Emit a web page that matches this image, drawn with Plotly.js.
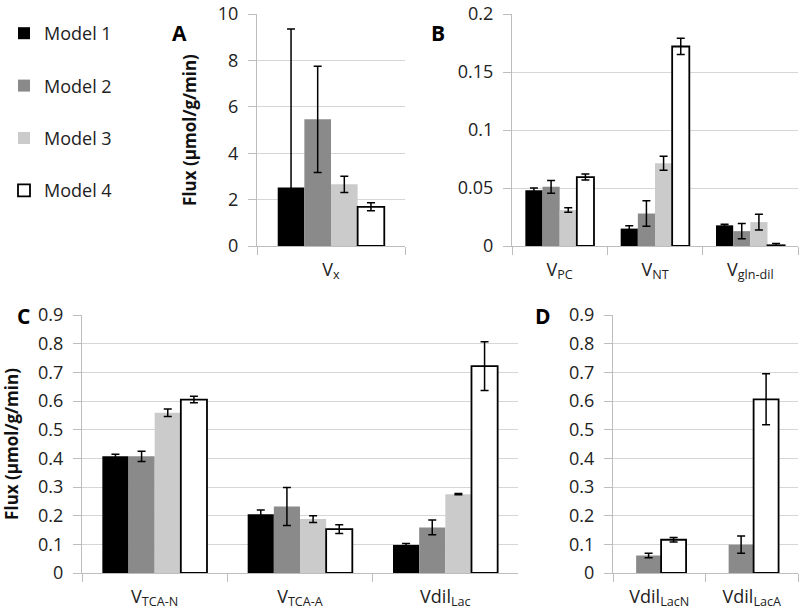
<!DOCTYPE html>
<html>
<head>
<meta charset="utf-8">
<script src="https://cdn.plot.ly/plotly-3.0.1.min.js"></script>
<style>
  html, body { margin: 0; padding: 0; background: #fff; }
  #chart { width: 800px; height: 614px; }
</style>
</head>
<body>
<div id="chart"></div>
<script>
const models = ['Model 1', 'Model 2', 'Model 3', 'Model 4'];

// panel A
const catsA = ['V<sub>x</sub>'];
const valsA = [[2.52], [5.46], [2.66], [1.69]];
const errA = [[6.83], [2.29], [0.35], [0.17]];

// panel B
const catsB = ['V<sub>PC</sub>', 'V<sub>NT</sub>', 'V<sub>gln-dil</sub>'];
const valsB = [
    [0.048, 0.015, 0.0178],
    [0.051, 0.028, 0.0128],
    [0.031, 0.0714, 0.0206],
    [0.0594, 0.172, 0.0006]
];
const errB = [
    [0.002, 0.0025, 0.001],
    [0.0055, 0.011, 0.0065],
    [0.002, 0.006, 0.0068],
    [0.0026, 0.007, 0.0015]
];

// panel C
const catsC = ['V<sub>TCA-N</sub>', 'V<sub>TCA-A</sub>', 'Vdil<sub>Lac</sub>'];
const valsC = [
    [0.407, 0.205, 0.098],
    [0.407, 0.232, 0.159],
    [0.559, 0.188, 0.275],
    [0.605, 0.153, 0.722]
];
const errC = [
    [0.007, 0.015, 0.005],
    [0.018, 0.066, 0.026],
    [0.013, 0.0115, 0.002],
    [0.0115, 0.015, 0.085]
];

// panel D (only models 2 and 4)
const catsD = ['Vdil<sub>LacN</sub>', 'Vdil<sub>LacA</sub>'];
const modelsD = ['Model 2', 'Model 4'];
const valsD = [[0.061, 0.099], [0.116, 0.606]];
const errD = [[0.008, 0.030], [0.0075, 0.089]];

const fills = {'Model 1': '#000000', 'Model 2': '#8a8a8a', 'Model 3': '#cbcbcb', 'Model 4': '#ffffff'};
const FONT = 'Open Sans, sans-serif';
const W = 800, H = 614;

const xdom = (l, r) => [l / W, r / W];
const ydom = (t, b) => [1 - b / H, 1 - t / H];

const bar = (name, cats, y, err, ax, legend, extra) => Object.assign({
    type: 'bar',
    name: name,
    legendgroup: name,
    showlegend: legend,
    x: cats,
    y: y,
    xaxis: 'x' + ax,
    yaxis: 'y' + ax,
    marker: {
        color: fills[name],
        line: {color: '#000', width: name === 'Model 4' ? 1.8 : 0}
    },
    error_y: {type: 'data', array: err, color: '#000', thickness: 1.5, width: 4},
    hoverinfo: 'x+y+name'
}, extra || {});

const data = [];
models.forEach((m, i) => data.push(bar(m, catsA, valsA[i], errA[i], '', true)));
models.forEach((m, i) => data.push(bar(m, catsB, valsB[i], errB[i], '2', false)));
models.forEach((m, i) => data.push(bar(m, catsC, valsC[i], errC[i], '3', false)));
modelsD.forEach((m, i) => data.push(bar(m, catsD, valsD[i], errD[i], '4', false,
    {width: 0.27, offset: i === 0 ? -0.25 : 0.02})));

const xax = (dom, anchor) => ({
    domain: dom,
    anchor: anchor,
    showline: true,
    linecolor: '#bdbdbd',
    linewidth: 1,
    ticks: 'outside',
    tickson: 'boundaries',
    ticklen: 8,
    tickcolor: '#bdbdbd',
    ticklabelstandoff: 7,
    showgrid: false,
    fixedrange: true,
    tickfont: {family: FONT, size: 18, color: '#222'}
});
const yax = (dom, anchor, range, dtick, title) => ({
    domain: dom,
    anchor: anchor,
    range: range,
    dtick: dtick,
    showline: true,
    linecolor: '#bdbdbd',
    ticks: 'outside',
    ticklen: 8,
    tickcolor: '#bdbdbd',
    ticklabelstandoff: 6,
    ticklabeloverflow: 'allow',
    gridcolor: '#d6d6d6',
    zeroline: false,
    fixedrange: true,
    tickfont: {family: FONT, size: 18, color: '#222'},
    title: title ? {text: title, font: {family: FONT, size: 17, color: '#111', weight: 'bold'}, standoff: 16} : undefined
});

const letter = (t, x, y) => ({
    text: t, x: x / W, y: 1 - y / H, xref: 'paper', yref: 'paper',
    showarrow: false, font: {family: FONT, size: 21, color: '#000', weight: 'bold'}
});

const layout = {
    width: W,
    height: H,
    margin: {l: 0, r: 0, t: 0, b: 0},
    paper_bgcolor: '#fff',
    plot_bgcolor: '#fff',
    barmode: 'group',
    bargap: 0.28,
    bargroupgap: 0,
    font: {family: FONT, size: 18, color: '#222'},
    xaxis: xax(xdom(257, 405), 'y'),
    yaxis: yax(ydom(14, 246), 'x', [0, 10], 2, 'Flux (µmol/g/min)'),
    xaxis2: xax(xdom(512, 798), 'y2'),
    yaxis2: yax(ydom(14, 246), 'x2', [0, 0.2], 0.05),
    xaxis3: xax(xdom(82, 518), 'y3'),
    yaxis3: yax(ydom(315, 573), 'x3', [0, 0.9], 0.1, 'Flux (µmol/g/min)'),
    xaxis4: xax(xdom(613, 798), 'y4'),
    yaxis4: yax(ydom(315, 573), 'x4', [0, 0.9], 0.1),
    showlegend: true,
    legend: {
        x: 0.005, xanchor: 'left',
        y: 1 - 15 / H, yanchor: 'top',
        font: {family: FONT, size: 18, color: '#222'},
        tracegroupgap: 26,
        bgcolor: 'rgba(0,0,0,0)'
    },
    annotations: [
        letter('A', 170, 17),
        letter('B', 438, 17),
        letter('C', 15, 316),
        letter('D', 553, 316)
    ]
};

Plotly.newPlot('chart', data, layout, {displayModeBar: false, responsive: false});
</script>
</body>
</html>
